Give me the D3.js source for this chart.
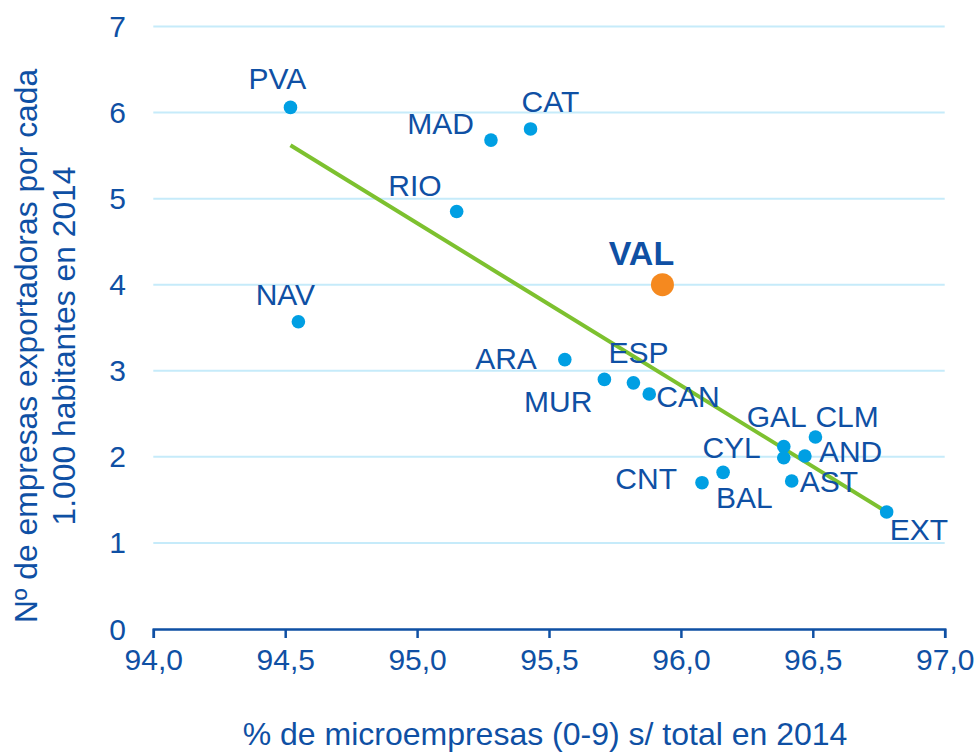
<!DOCTYPE html>
<html>
<head>
<meta charset="utf-8">
<script src="https://cdn.jsdelivr.net/npm/d3@7"></script>
<style>
  body { margin: 0; background: #fff; }
  text { font-family: "Liberation Sans", Arial, sans-serif; }
</style>
</head>
<body>
<div id="vis"></div>
<script>
const FRAME_WIDTH = 979;
const FRAME_HEIGHT = 752;
const MARGINS = {left: 153.3, right: 34.3, top: 26.5, bottom: 123};

// data
const regions = ['PVA', 'MAD', 'CAT', 'RIO', 'NAV', 'VAL', 'ARA', 'MUR', 'ESP', 'CAN',
                 'GAL', 'CLM', 'CYL', 'AND', 'CNT', 'BAL', 'AST', 'EXT'];
const microPct = [94.52, 95.28, 95.43, 95.15, 94.55, 95.93, 95.56, 95.71, 95.82, 95.88,
                  96.39, 96.51, 96.39, 96.47, 96.08, 96.16, 96.42, 96.78];
const exportersPer1000 = [6.06, 5.68, 5.81, 4.85, 3.57, 4.00, 3.13, 2.90, 2.86, 2.73,
                          2.12, 2.23, 1.99, 2.01, 1.70, 1.82, 1.72, 1.36];
const trendX = [94.52, 96.78];
const trendY = [5.62, 1.36];
const xTicks = [94.0, 94.5, 95.0, 95.5, 96.0, 96.5, 97.0];
const yTicks = [0, 1, 2, 3, 4, 5, 6, 7];
const highlight = 'VAL';

// label placement: [anchor, dx, dy(baseline)]
const labelPos = {
  PVA: ['middle', -13, -18], MAD: ['end', -17, -6], CAT: ['start', -9, -17],
  RIO: ['end', -15, -16], NAV: ['middle', -13, -17], VAL: ['middle', -21, -20],
  ARA: ['end', -28, 9], MUR: ['end', -12, 33], ESP: ['start', -25, -20],
  CAN: ['start', 7, 13], GAL: ['middle', -7, -20], CLM: ['start', 0, -10],
  CYL: ['end', -23, 0], AND: ['start', 14, 6], AST: ['start', 8, 11],
  BAL: ['start', -7, 36], CNT: ['end', -25, 6], EXT: ['start', 3, 28]
};

const BLUE_TEXT = '#0f50a4';
const DOT = '#009fe3';

const VIS_WIDTH = FRAME_WIDTH - MARGINS.left - MARGINS.right;
const VIS_HEIGHT = FRAME_HEIGHT - MARGINS.top - MARGINS.bottom;

const FRAME = d3.select('#vis')
  .append('svg')
    .attr('width', FRAME_WIDTH)
    .attr('height', FRAME_HEIGHT);

const X_SCALE = d3.scaleLinear().domain([94, 97]).range([MARGINS.left, MARGINS.left + VIS_WIDTH]);
const Y_SCALE = d3.scaleLinear().domain([0, 7]).range([MARGINS.top + VIS_HEIGHT, MARGINS.top]);

// horizontal gridlines
FRAME.append('g')
  .selectAll('line')
  .data(yTicks.filter(d => d > 0))
  .enter()
  .append('line')
    .attr('x1', X_SCALE(94))
    .attr('x2', X_SCALE(97))
    .attr('y1', d => Y_SCALE(d))
    .attr('y2', d => Y_SCALE(d))
    .attr('stroke', '#c6ebfa')
    .attr('stroke-width', 2);

// y tick labels (no axis line)
FRAME.append('g')
  .selectAll('text')
  .data(yTicks)
  .enter()
  .append('text')
    .attr('x', 126)
    .attr('y', d => Y_SCALE(d))
    .attr('dy', '0.35em')
    .attr('text-anchor', 'end')
    .attr('font-size', 30)
    .attr('fill', BLUE_TEXT)
    .text(d => d);

// x axis
const xAxis = FRAME.append('g')
  .attr('transform', 'translate(0,' + Y_SCALE(0) + ')')
  .call(d3.axisBottom(X_SCALE)
    .tickValues(xTicks)
    .tickSize(9)
    .tickSizeOuter(9)
    .tickPadding(11)
    .tickFormat(d => d3.format('.1f')(d).replace('.', ',')));
xAxis.select('.domain').attr('stroke', BLUE_TEXT).attr('stroke-width', 2.5);
xAxis.selectAll('.tick line').attr('stroke', BLUE_TEXT).attr('stroke-width', 2.5);
xAxis.selectAll('.tick text')
  .attr('font-size', 30)
  .attr('font-family', '"Liberation Sans", Arial, sans-serif')
  .attr('fill', BLUE_TEXT);

// axis titles
FRAME.append('text')
  .attr('x', X_SCALE(95.5) - 4)
  .attr('y', 745)
  .attr('text-anchor', 'middle')
  .attr('font-size', 32)
  .attr('fill', BLUE_TEXT)
  .text('% de microempresas (0-9) s/ total en 2014');

const yTitle = FRAME.append('text')
  .attr('transform', 'translate(37,346) rotate(-90)')
  .attr('text-anchor', 'middle')
  .attr('font-size', 31.8)
  .attr('fill', BLUE_TEXT);
yTitle.append('tspan').attr('x', 0).attr('y', 0).text('Nº de empresas exportadoras por cada');
yTitle.append('tspan').attr('x', 0).attr('y', 38).text('1.000 habitantes en 2014');

// trend line
FRAME.append('line')
  .attr('x1', X_SCALE(trendX[0]))
  .attr('y1', Y_SCALE(trendY[0]))
  .attr('x2', X_SCALE(trendX[1]))
  .attr('y2', Y_SCALE(trendY[1]))
  .attr('stroke', '#7dc12f')
  .attr('stroke-width', 4);

const points = regions.map((r, i) => ({name: r, x: microPct[i], y: exportersPer1000[i]}));

// points
FRAME.selectAll('.point')
  .data(points)
  .enter()
  .append('circle')
    .attr('class', 'point')
    .attr('cx', d => X_SCALE(d.x))
    .attr('cy', d => Y_SCALE(d.y))
    .attr('r', d => d.name === highlight ? 11.5 : 6.8)
    .attr('fill', d => d.name === highlight ? '#f5891f' : DOT);

// labels
FRAME.selectAll('.label')
  .data(points)
  .enter()
  .append('text')
    .attr('class', 'label')
    .attr('x', d => X_SCALE(d.x) + labelPos[d.name][1])
    .attr('y', d => Y_SCALE(d.y) + labelPos[d.name][2])
    .attr('text-anchor', d => labelPos[d.name][0])
    .attr('font-size', d => d.name === highlight ? 34 : 30)
    .attr('font-weight', d => d.name === highlight ? 'bold' : 'normal')
    .attr('fill', BLUE_TEXT)
    .text(d => d.name);
</script>
</body>
</html>
